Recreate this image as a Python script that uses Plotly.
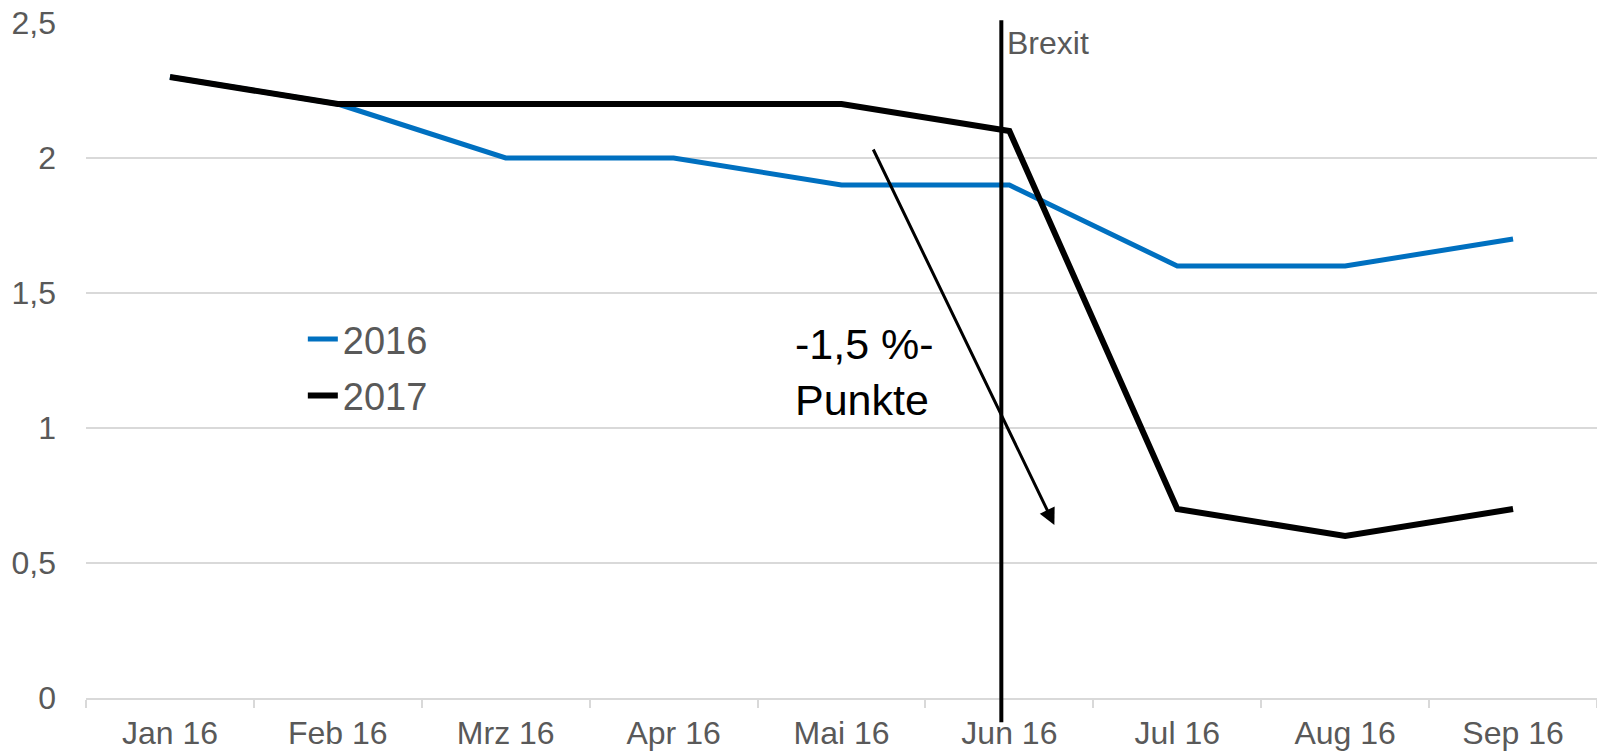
import plotly.graph_objects as go

months = ["Jan 16", "Feb 16", "Mrz 16", "Apr 16", "Mai 16", "Jun 16", "Jul 16", "Aug 16", "Sep 16"]
values_2016 = [2.3, 2.2, 2.0, 2.0, 1.9, 1.9, 1.6, 1.6, 1.7]
values_2017 = [2.3, 2.2, 2.2, 2.2, 2.2, 2.1, 0.7, 0.6, 0.7]
y_tickvals = [0, 0.5, 1, 1.5, 2, 2.5]
y_ticktext = ["0", "0,5", "1", "1,5", "2", "2,5"]

FONT = "Liberation Sans, Arial, sans-serif"
GRAY = "#595959"
GRID = "#d9d9d9"

fig = go.Figure()
fig.add_trace(go.Scatter(x=months, y=values_2016, mode="lines", name="2016", legendgroup="a",
                         line=dict(color="#0070C0", width=5)))
fig.add_trace(go.Scatter(x=months, y=values_2017, mode="lines", name="2017", legendgroup="b",
                         line=dict(color="#000000", width=6)))

# Brexit vertical line (just left of Jun)
fig.add_shape(type="line", xref="x", yref="y domain", x0=4.952, x1=4.952,
              y0=-0.036, y1=1.004, line=dict(color="black", width=4), layer="above")
fig.add_annotation(x=4.952, xref="x", y=1.0, yref="y domain", text="Brexit",
                   showarrow=False, xanchor="left", yanchor="top", xshift=4, yshift=0,
                   font=dict(family=FONT, size=32, color=GRAY))

# Arrow and label
fig.add_annotation(x=5.268, y=0.641, ax=4.185, ay=2.037, xref="x", yref="y",
                   axref="x", ayref="y", showarrow=True, arrowhead=2, arrowsize=1.1,
                   arrowwidth=3, arrowcolor="black", text="")
fig.add_annotation(x=3.714, y=1.206, xref="x", yref="y", text="-1,5 %-<br>Punkte",
                   showarrow=False, xanchor="left", yanchor="middle", align="left",
                   font=dict(family=FONT, size=43, color="black"))

fig.update_layout(
    width=1597, height=755,
    margin=dict(l=86, r=0, t=23, b=57),
    paper_bgcolor="white", plot_bgcolor="white",
    font=dict(family=FONT, color=GRAY),
    showlegend=True,
    legend=dict(x=0.1435, y=0.578, xanchor="left", yanchor="top",
                traceorder="grouped", tracegroupgap=4,
                font=dict(family=FONT, size=38, color=GRAY),
                bgcolor="rgba(0,0,0,0)", itemwidth=30),
    xaxis=dict(type="category", range=[-0.5, 8.5], showgrid=False,
               showline=True, linecolor=GRID, linewidth=2,
               ticks="outside", ticklen=8, tickcolor=GRID, tickwidth=2,
               tickson="boundaries", ticklabelstandoff=6,
               tickfont=dict(family=FONT, size=32, color=GRAY)),
    yaxis=dict(range=[0, 2.5], tickvals=y_tickvals, ticktext=y_ticktext,
               showgrid=True, gridcolor=GRID, gridwidth=2, zeroline=False,
               showline=False, ticks="", ticklabelstandoff=29,
               tickfont=dict(family=FONT, size=32, color=GRAY)),
)

fig.write_html("out.html")
